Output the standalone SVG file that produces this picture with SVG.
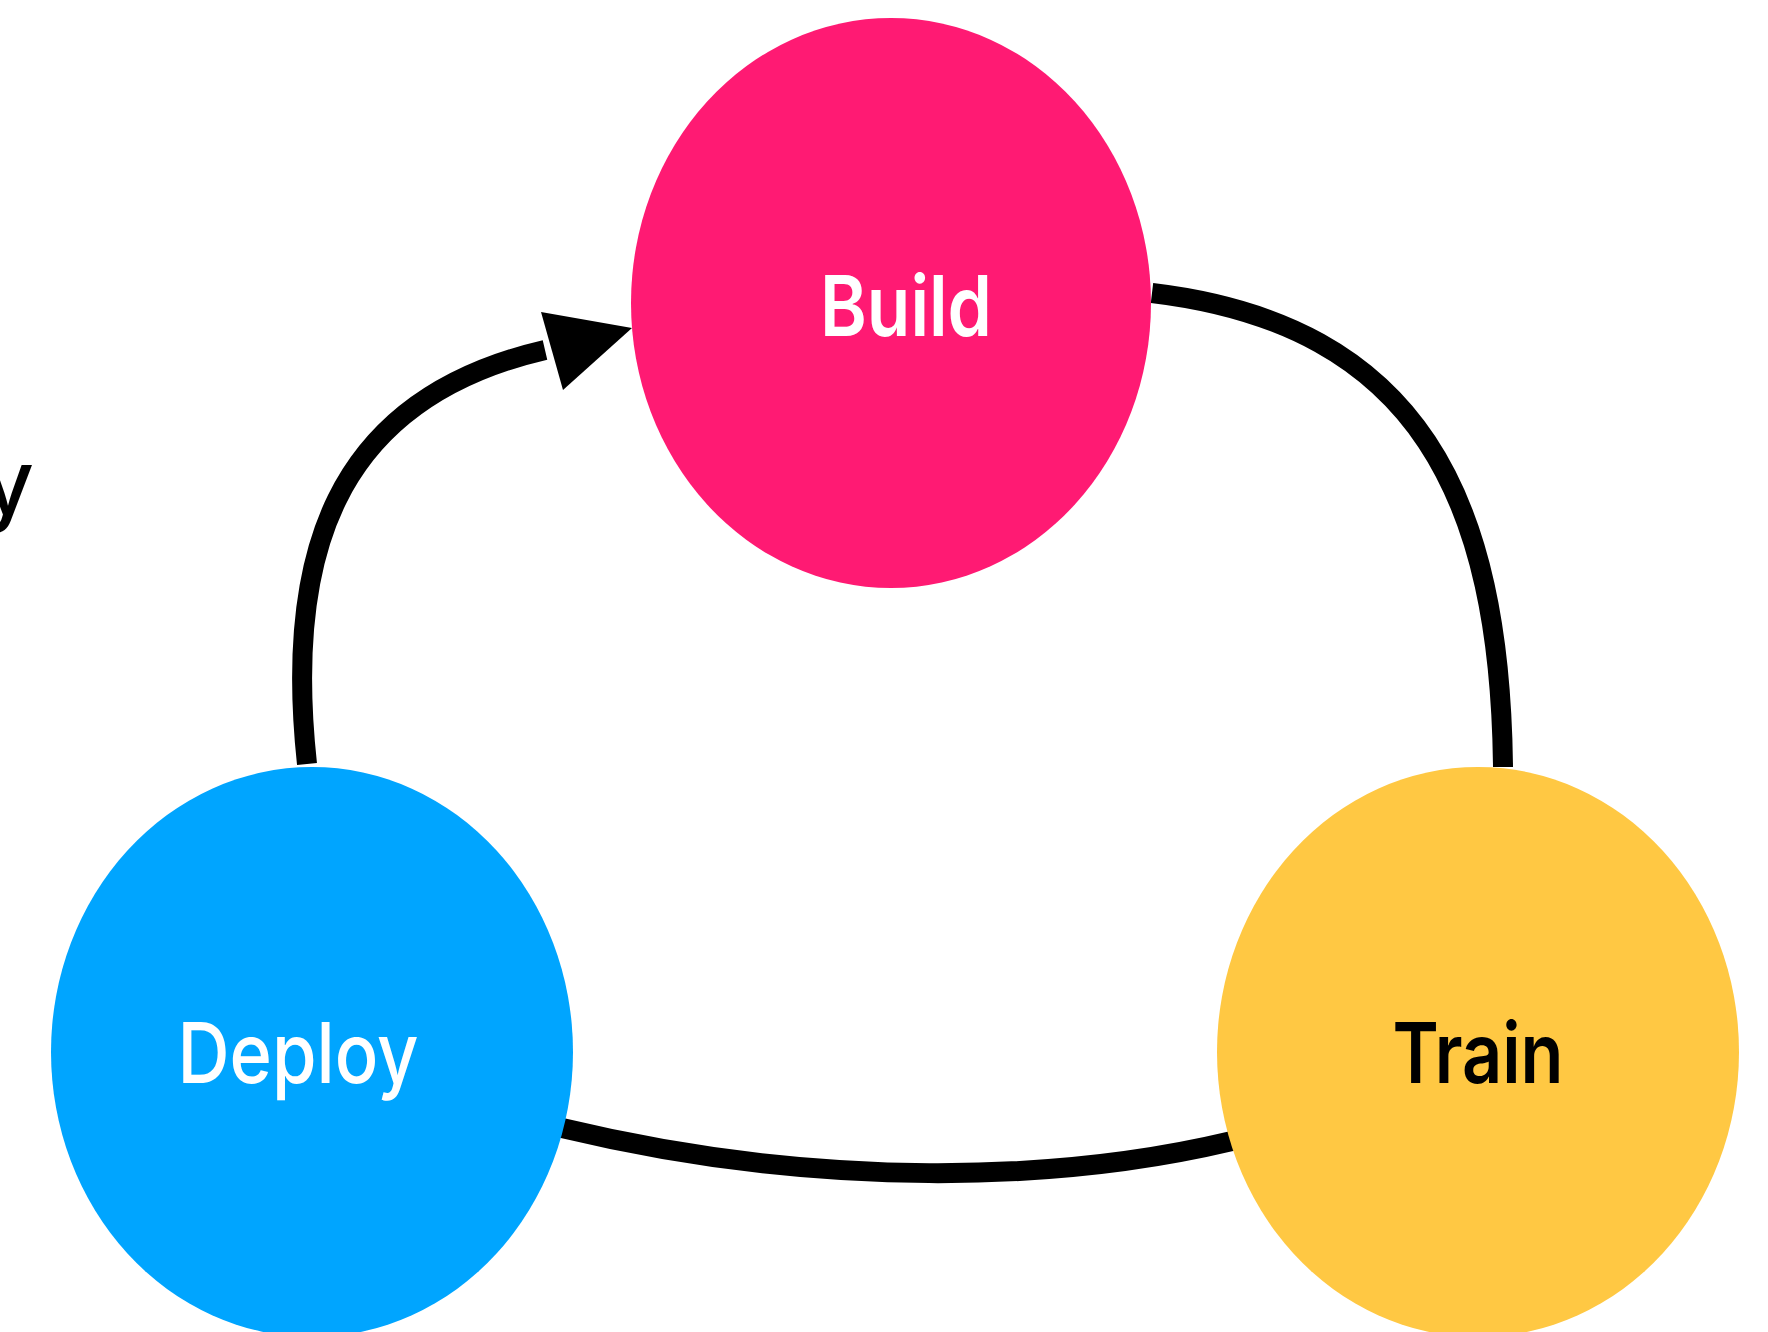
<svg xmlns="http://www.w3.org/2000/svg" width="1768" height="1332" viewBox="0 0 1768 1332">
<style>
.lbl{font-family:Inter,"Noto Sans","Liberation Sans",sans-serif;font-size:84px;text-anchor:middle}
.edge{fill:none;stroke:#000;stroke-width:20}
</style>
<rect width="1768" height="1332" fill="#fff"/>
<text x="34" y="514" class="lbl" style="text-anchor:end;font-weight:500;font-size:90px" fill="#000">y</text>
<g id="connectors">
<path class="edge" d="M307,764 C285,560 330,400 545,350"/>
<path d="M541,312 L632,328 L563,390 Z" fill="#000"/>
<path class="edge" d="M1152,293 C1420,325 1500,500 1503,767"/>
<path class="edge" d="M562,1128 C820,1190 1060,1182 1232,1141"/>
</g>
<g id="build">
<ellipse cx="891" cy="303" rx="260" ry="285" fill="#FF1A73"/>
<text x="906" y="336" class="lbl" fill="#fff" font-weight="600" textLength="172" lengthAdjust="spacingAndGlyphs">Build</text>
</g>
<g id="deploy">
<ellipse cx="312" cy="1052" rx="261" ry="285" fill="#00A5FF"/>
<text x="298" y="1083" class="lbl" fill="#fff" font-weight="500" textLength="241" lengthAdjust="spacingAndGlyphs">Deploy</text>
</g>
<g id="train">
<ellipse cx="1478" cy="1052" rx="261" ry="285" fill="#FFC843"/>
<text x="1478" y="1083" class="lbl" fill="#000" font-weight="600" textLength="171" lengthAdjust="spacingAndGlyphs">Train</text>
</g>
</svg>
